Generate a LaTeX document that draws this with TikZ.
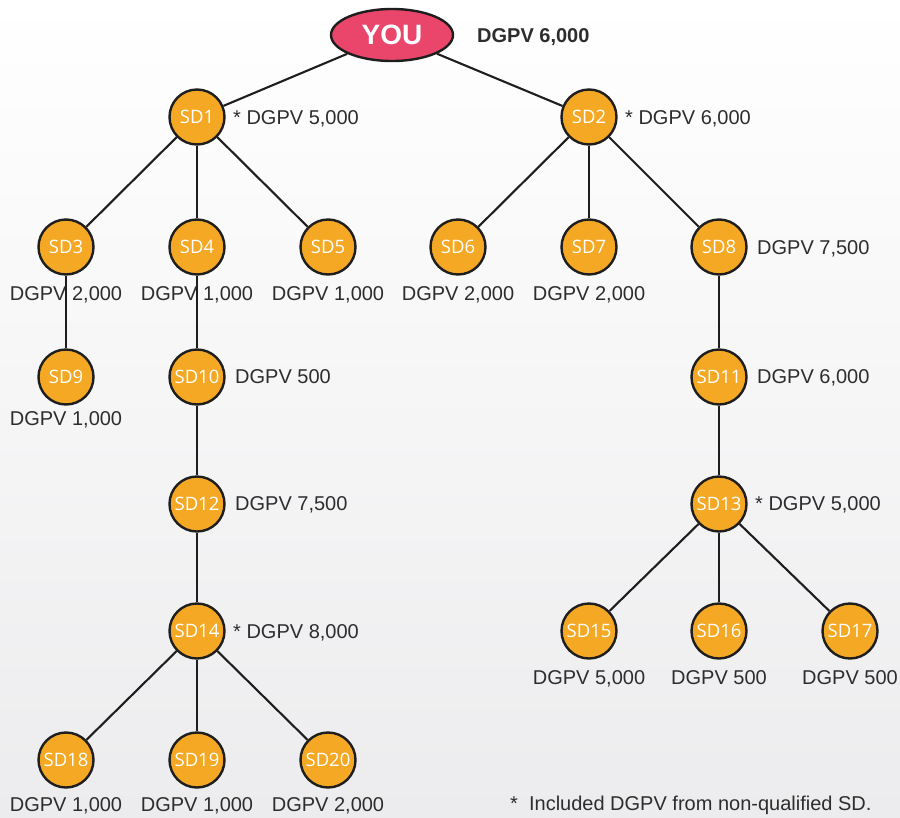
\documentclass[tikz,border=0pt]{standalone}
\usepackage{fontspec}
\setmainfont{Liberation Sans}
\newfontfamily\sdfont{Open Sans}
\usetikzlibrary{shapes.geometric}
\definecolor{sdorange}{RGB}{245,168,35}
\definecolor{youpink}{RGB}{234,70,108}
\definecolor{edgecol}{RGB}{30,30,30}
\definecolor{txtcol}{RGB}{45,45,45}
\definecolor{bgbot}{RGB}{236,236,238}
\begin{document}
\begin{tikzpicture}[x=1pt,y=-1pt,
  sd/.style={circle, draw=edgecol, line width=2.4pt, fill=sdorange, minimum size=55pt, inner sep=0pt, text=white, font=\sdfont\fontsize{18.5}{21}\selectfont},
  you/.style={ellipse, draw=edgecol, line width=2.4pt, fill=youpink, minimum width=122pt, minimum height=52pt, inner sep=0pt, text=white, font=\bfseries\fontsize{28}{32}\selectfont},
  lbl/.style={text=txtcol, font=\fontsize{20}{24}\selectfont, inner sep=0pt, anchor=base},
  lblr/.style={lbl, anchor=base west},
  conn/.style={draw=edgecol, line width=2.1pt}]
\shade[top color=white, bottom color=bgbot] (0,0) rectangle (900,817);
\useasboundingbox (0,0) rectangle (900,817);

% nodes
\node[you] (you) at (392,35) {YOU};
\node[sd] (sd1) at (197,117) {SD1};
\node[sd] (sd2) at (589,117) {SD2};
\node[sd] (sd3) at (66,247) {SD3};
\node[sd] (sd4) at (197,247) {SD4};
\node[sd] (sd5) at (328,247) {SD5};
\node[sd] (sd6) at (458,247) {SD6};
\node[sd] (sd7) at (589,247) {SD7};
\node[sd] (sd8) at (719,247) {SD8};
\node[sd] (sd9) at (66,377) {SD9};
\node[sd] (sd10) at (197,377) {SD10};
\node[sd] (sd11) at (719,377) {SD11};
\node[sd] (sd12) at (197,504) {SD12};
\node[sd] (sd13) at (719,504) {SD13};
\node[sd] (sd14) at (197,631) {SD14};
\node[sd] (sd15) at (589,631) {SD15};
\node[sd] (sd16) at (719,631) {SD16};
\node[sd] (sd17) at (850,631) {SD17};
\node[sd] (sd18) at (66,760) {SD18};
\node[sd] (sd19) at (197,760) {SD19};
\node[sd] (sd20) at (328,760) {SD20};

% connectors
\draw[conn] (you) -- (sd1);
\draw[conn] (you) -- (sd2);
\draw[conn] (sd1) -- (sd3);
\draw[conn] (sd1) -- (sd4);
\draw[conn] (sd1) -- (sd5);
\draw[conn] (sd2) -- (sd6);
\draw[conn] (sd2) -- (sd7);
\draw[conn] (sd2) -- (sd8);
\draw[conn] (sd3) -- (sd9);
\draw[conn] (sd4) -- (sd10);
\draw[conn] (sd10) -- (sd12);
\draw[conn] (sd12) -- (sd14);
\draw[conn] (sd14) -- (sd18);
\draw[conn] (sd14) -- (sd19);
\draw[conn] (sd14) -- (sd20);
\draw[conn] (sd8) -- (sd11);
\draw[conn] (sd11) -- (sd13);
\draw[conn] (sd13) -- (sd15);
\draw[conn] (sd13) -- (sd16);
\draw[conn] (sd13) -- (sd17);

% labels
\node[lblr, font=\bfseries\fontsize{20}{24}\selectfont] (lyou) at (477,42) {DGPV 6,000};
\node[lblr] (l1) at (233,124) {* DGPV 5,000};
\node[lblr] (l2) at (625,124) {* DGPV 6,000};
\node[lbl] (l3) at (66,300) {DGPV 2,000};
\node[lbl] (l4) at (197,300) {DGPV 1,000};
\node[lbl] (l5) at (328,300) {DGPV 1,000};
\node[lbl] (l6) at (458,300) {DGPV 2,000};
\node[lbl] (l7) at (589,300) {DGPV 2,000};
\node[lblr] (l8) at (757,254) {DGPV 7,500};
\node[lbl] (l9) at (66,425) {DGPV 1,000};
\node[lblr] (l10) at (235,383) {DGPV 500};
\node[lblr] (l11) at (757,383) {DGPV 6,000};
\node[lblr] (l12) at (235,510) {DGPV 7,500};
\node[lblr] (l13) at (755,510) {* DGPV 5,000};
\node[lblr] (l14) at (233,638) {* DGPV 8,000};
\node[lbl] (l15) at (589,684) {DGPV 5,000};
\node[lbl] (l16) at (719,684) {DGPV 500};
\node[lbl] (l17) at (850,684) {DGPV 500};
\node[lbl] (l18) at (66,811) {DGPV 1,000};
\node[lbl] (l19) at (197,811) {DGPV 1,000};
\node[lbl] (l20) at (328,811) {DGPV 2,000};
\node[lblr] (note) at (510,810) {*\ \ Included DGPV from non-qualified SD.};
\end{tikzpicture}
\end{document}
